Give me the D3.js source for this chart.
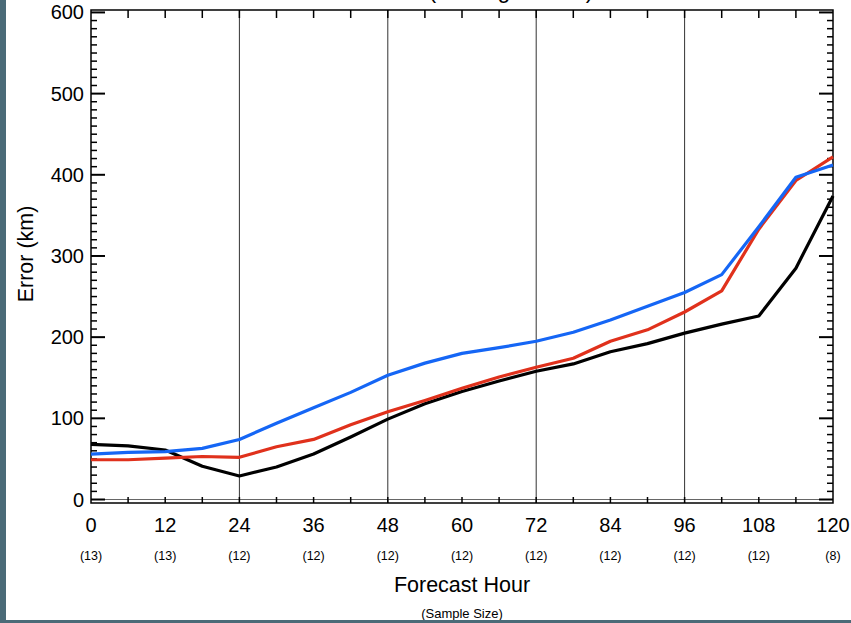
<!DOCTYPE html>
<html lang="en">
<head>
    <meta charset="UTF-8">
    <title>Track Error by Forecast Hour</title>
    <script src="https://d3js.org/d3.v7.min.js"></script>
    <style>
        body {
            margin: 0;
            padding: 0;
            background-color: white;
        }
        svg text {
            font-family: "Liberation Sans", Arial, Helvetica, sans-serif;
        }
    </style>
</head>
<body>
    <svg id="chart" width="851" height="623"></svg>
    <script>
        // forecast hours and sample sizes
        const hours = [0, 6, 12, 18, 24, 30, 36, 42, 48, 54, 60, 66, 72, 78, 84, 90, 96, 102, 108, 114, 120];
        const labelHours = [0, 12, 24, 36, 48, 60, 72, 84, 96, 108, 120];
        const sampleSizes = [13, 13, 12, 12, 12, 12, 12, 12, 12, 12, 8];
        const gridHours = [24, 48, 72, 96];
        const yTicks = [0, 100, 200, 300, 400, 500, 600];

        // errors (km)
        const blackErr = [68, 66, 61, 41, 29, 40, 56, 77, 99, 118, 133, 146, 158, 167, 182, 192, 205, 216, 226, 285, 374];
        const redErr   = [49, 49, 51, 53, 52, 65, 74, 92, 108, 122, 137, 151, 163, 174, 195, 209, 231, 257, 333, 393, 422];
        const blueErr  = [56, 58, 59, 63, 74, 94, 113, 132, 153, 168, 180, 187, 195, 206, 221, 238, 255, 277, 336, 397, 412];

        const svg = d3.select("#chart");
        const W = 851, H = 623;

        const x = d3.scaleLinear().domain([0, 120]).range([91, 833]);
        const y = d3.scaleLinear().domain([-4.3, 603]).range([503, 10]);

        // title, mostly clipped off the top as in the original
        svg.append("text")
            .attr("x", 511).attr("y", -2)
            .attr("text-anchor", "middle")
            .style("font-size", "23px")
            .text("(Homogeneous)");

        // vertical grid lines
        svg.append("g").selectAll("line")
            .data(gridHours)
            .join("line")
            .attr("x1", d => x(d)).attr("x2", d => x(d))
            .attr("y1", y.range()[1]).attr("y2", y.range()[0])
            .attr("stroke", "#333")
            .attr("stroke-width", 1);

        // zero line
        svg.append("line")
            .attr("x1", 91).attr("x2", 833)
            .attr("y1", y(0)).attr("y2", y(0))
            .attr("stroke", "#666").attr("stroke-width", 1);

        // ticks
        const ticks = svg.append("g").attr("stroke", "#000").attr("stroke-width", 1.5);
        const xMinor = d3.range(6, 120, 6);
        ticks.selectAll(".xt").data(xMinor).join("line")
            .attr("x1", d => x(d)).attr("x2", d => x(d))
            .attr("y1", 10).attr("y2", 18);
        ticks.selectAll(".xb").data(xMinor).join("line")
            .attr("x1", d => x(d)).attr("x2", d => x(d))
            .attr("y1", 503).attr("y2", 497);
        const yMinor = d3.range(0, 601, 10);
        ticks.selectAll(".yl").data(yMinor).join("line")
            .attr("x1", 91).attr("x2", d => 91 + (d % 100 === 0 ? 14 : 6))
            .attr("y1", d => y(d)).attr("y2", d => y(d))
            .attr("stroke-width", d => d % 100 === 0 ? 2 : 1.5);
        ticks.selectAll(".yr").data(yMinor).join("line")
            .attr("x1", 833).attr("x2", d => 833 - (d % 100 === 0 ? 14 : 6))
            .attr("y1", d => y(d)).attr("y2", d => y(d))
            .attr("stroke-width", d => d % 100 === 0 ? 2 : 1.5);

        // frame
        svg.append("rect")
            .attr("x", 91).attr("y", 10)
            .attr("width", 833 - 91).attr("height", 503 - 10)
            .attr("fill", "none")
            .attr("stroke", "#000")
            .attr("stroke-width", 1.5);

        // series
        const line = d3.line()
            .x((d, i) => x(hours[i]))
            .y(d => y(d));
        const series = [
            { vals: blackErr, color: "#000000" },
            { vals: redErr, color: "#e0311c" },
            { vals: blueErr, color: "#1566f5" }
        ];
        svg.append("g").selectAll("path")
            .data(series)
            .join("path")
            .attr("d", d => line(d.vals))
            .attr("fill", "none")
            .attr("stroke", d => d.color)
            .attr("stroke-width", 3.2)
            .attr("stroke-linejoin", "round");

        // y labels
        svg.append("g").selectAll("text")
            .data(yTicks)
            .join("text")
            .attr("x", 84)
            .attr("y", d => y(d) + 7)
            .attr("text-anchor", "end")
            .style("font-size", "20px")
            .text(d => d);

        // x labels
        svg.append("g").selectAll("text")
            .data(labelHours)
            .join("text")
            .attr("x", d => x(d))
            .attr("y", 532)
            .attr("text-anchor", "middle")
            .style("font-size", "20px")
            .text(d => d);

        // sample sizes
        svg.append("g").selectAll("text")
            .data(sampleSizes)
            .join("text")
            .attr("x", (d, i) => x(labelHours[i]))
            .attr("y", 560)
            .attr("text-anchor", "middle")
            .style("font-size", "12.5px")
            .text(d => `(${d})`);

        svg.append("text")
            .attr("x", 462).attr("y", 592)
            .attr("text-anchor", "middle")
            .style("font-size", "21.5px")
            .text("Forecast Hour");

        svg.append("text")
            .attr("x", 462).attr("y", 618)
            .attr("text-anchor", "middle")
            .style("font-size", "13px")
            .text("(Sample Size)");

        svg.append("text")
            .attr("transform", "translate(33,254) rotate(-90)")
            .attr("text-anchor", "middle")
            .style("font-size", "21.5px")
            .text("Error (km)");

        // slide border strips
        svg.append("rect").attr("x", 0).attr("y", 0).attr("width", 6).attr("height", H).attr("fill", "#4b6b78");
        svg.append("rect").attr("x", 0).attr("y", 620).attr("width", W).attr("height", 3).attr("fill", "#4b6b78");
    </script>
</body>
</html>
